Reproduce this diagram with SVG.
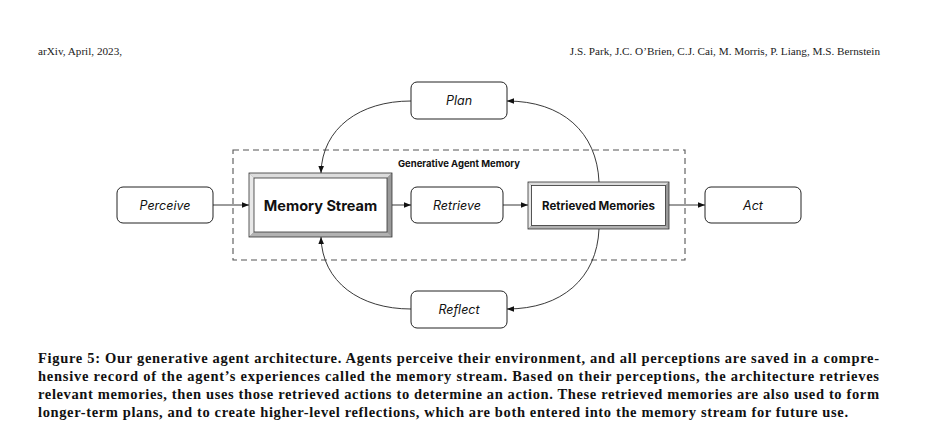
<svg xmlns="http://www.w3.org/2000/svg" width="930" height="440" viewBox="0 0 930 440">
<defs>
<style>
.box{fill:#fff;stroke:#222;stroke-width:1}
.lbl{font-family:Inter,"Open Sans","Liberation Sans",sans-serif;font-style:italic;font-size:12.5px;fill:#111;text-anchor:middle}
.blbl{font-family:Inter,"Open Sans","Liberation Sans",sans-serif;font-weight:700;fill:#111;text-anchor:middle}
.conn{fill:none;stroke:#222;stroke-width:0.9}
.hdr{font-family:"Liberation Serif","DejaVu Serif",serif;font-size:11.2px;fill:#222}
.cap{font-family:"Liberation Serif","DejaVu Serif",serif;font-size:14.5px;font-weight:700;fill:#111}
.bt{fill:#dcdcdc}.bl{fill:#e8e8e8}.br{fill:#9a9a9a}.bb{fill:#b2b2b2}
</style>
<marker id="ah" viewBox="0 0 10 10" refX="10" refY="5" markerWidth="7" markerHeight="7" markerUnits="userSpaceOnUse" orient="auto">
<path d="M0,1 L10,5 L0,9 z" fill="#111"/>
</marker>
</defs>
<rect width="930" height="440" fill="#fff"/>
<text class="hdr" x="38" y="55">arXiv, April, 2023,</text>
<text class="hdr" x="880" y="55" text-anchor="end">J.S. Park, J.C. O’Brien, C.J. Cai, M. Morris, P. Liang, M.S. Bernstein</text>

<g id="memory-group">
<rect x="233" y="150" width="452" height="110" fill="none" stroke="#555" stroke-width="1.1" stroke-dasharray="6,4"/>
<text class="blbl" x="459" y="167" font-size="9.5">Generative Agent Memory</text>
</g>

<g id="connectors">
<path class="conn" d="M213,205 L249,205" marker-end="url(#ah)"/>
<path class="conn" d="M392,205 L411,205" marker-end="url(#ah)"/>
<path class="conn" d="M503,205 L528,205" marker-end="url(#ah)"/>
<path class="conn" d="M669,205 L705,205" marker-end="url(#ah)"/>
<path class="conn" d="M411,101 C360,101 322,128 321,173" marker-end="url(#ah)"/>
<path class="conn" d="M599,182 C597,132 562,101 507,101" marker-end="url(#ah)"/>
<path class="conn" d="M411,309 C360,309 322,282 321,237" marker-end="url(#ah)"/>
<path class="conn" d="M599,229 C597,278 562,309 507,309" marker-end="url(#ah)"/>
</g>

<g id="perceive">
<rect class="box" x="117" y="187" width="96" height="36" rx="6"/>
<text class="lbl" x="165" y="209.5">Perceive</text>
</g>

<g id="memory-stream">
<rect x="249" y="173" width="143" height="64" fill="#888"/>
<polygon class="bt" points="249,173 392,173 387,178 254,178"/>
<polygon class="bl" points="249,173 254,178 254,232 249,237"/>
<polygon class="br" points="392,173 392,237 387,232 387,178"/>
<polygon class="bb" points="249,237 392,237 387,232 254,232"/>
<rect x="249" y="173" width="143" height="64" fill="none" stroke="#333" stroke-width="0.8"/>
<rect x="254" y="178" width="133" height="54" fill="#fff" stroke="#333" stroke-width="0.8"/>
<text class="blbl" x="320.5" y="210.5" font-size="14.5" font-weight="800">Memory Stream</text>
</g>

<g id="retrieve">
<rect class="box" x="411" y="187" width="92" height="36" rx="6"/>
<text class="lbl" x="457" y="209.5">Retrieve</text>
</g>

<g id="retrieved-memories">
<rect x="528" y="182" width="141" height="47" fill="#888"/>
<polygon class="bt" points="528,182 669,182 665.5,185.5 531.5,185.5"/>
<polygon class="bl" points="528,182 531.5,185.5 531.5,225.5 528,229"/>
<polygon class="br" points="669,182 669,229 665.5,225.5 665.5,185.5"/>
<polygon class="bb" points="528,229 669,229 665.5,225.5 531.5,225.5"/>
<rect x="528" y="182" width="141" height="47" fill="none" stroke="#333" stroke-width="0.8"/>
<rect x="531.5" y="185.5" width="134" height="40" fill="#fff" stroke="#333" stroke-width="0.8"/>
<text class="blbl" x="598.5" y="209.5" font-size="11.5">Retrieved Memories</text>
</g>

<g id="act">
<rect class="box" x="705" y="187" width="96" height="36" rx="6"/>
<text class="lbl" x="753" y="209.5">Act</text>
</g>

<g id="plan">
<rect class="box" x="411" y="82" width="96" height="37" rx="6"/>
<text class="lbl" x="459" y="105">Plan</text>
</g>

<g id="reflect">
<rect class="box" x="411" y="291" width="96" height="37" rx="6"/>
<text class="lbl" x="459" y="314">Reflect</text>
</g>

<g id="caption">
<text class="cap" x="38" y="363" textLength="841" lengthAdjust="spacing">Figure 5: Our generative agent architecture. Agents perceive their environment, and all perceptions are saved in a compre-</text>
<text class="cap" x="38" y="381" textLength="841" lengthAdjust="spacing">hensive record of the agent’s experiences called the memory stream. Based on their perceptions, the architecture retrieves</text>
<text class="cap" x="38" y="399" textLength="841" lengthAdjust="spacing">relevant memories, then uses those retrieved actions to determine an action. These retrieved memories are also used to form</text>
<text class="cap" x="38" y="417" textLength="810" lengthAdjust="spacing">longer-term plans, and to create higher-level reflections, which are both entered into the memory stream for future use.</text>
</g>
</svg>
